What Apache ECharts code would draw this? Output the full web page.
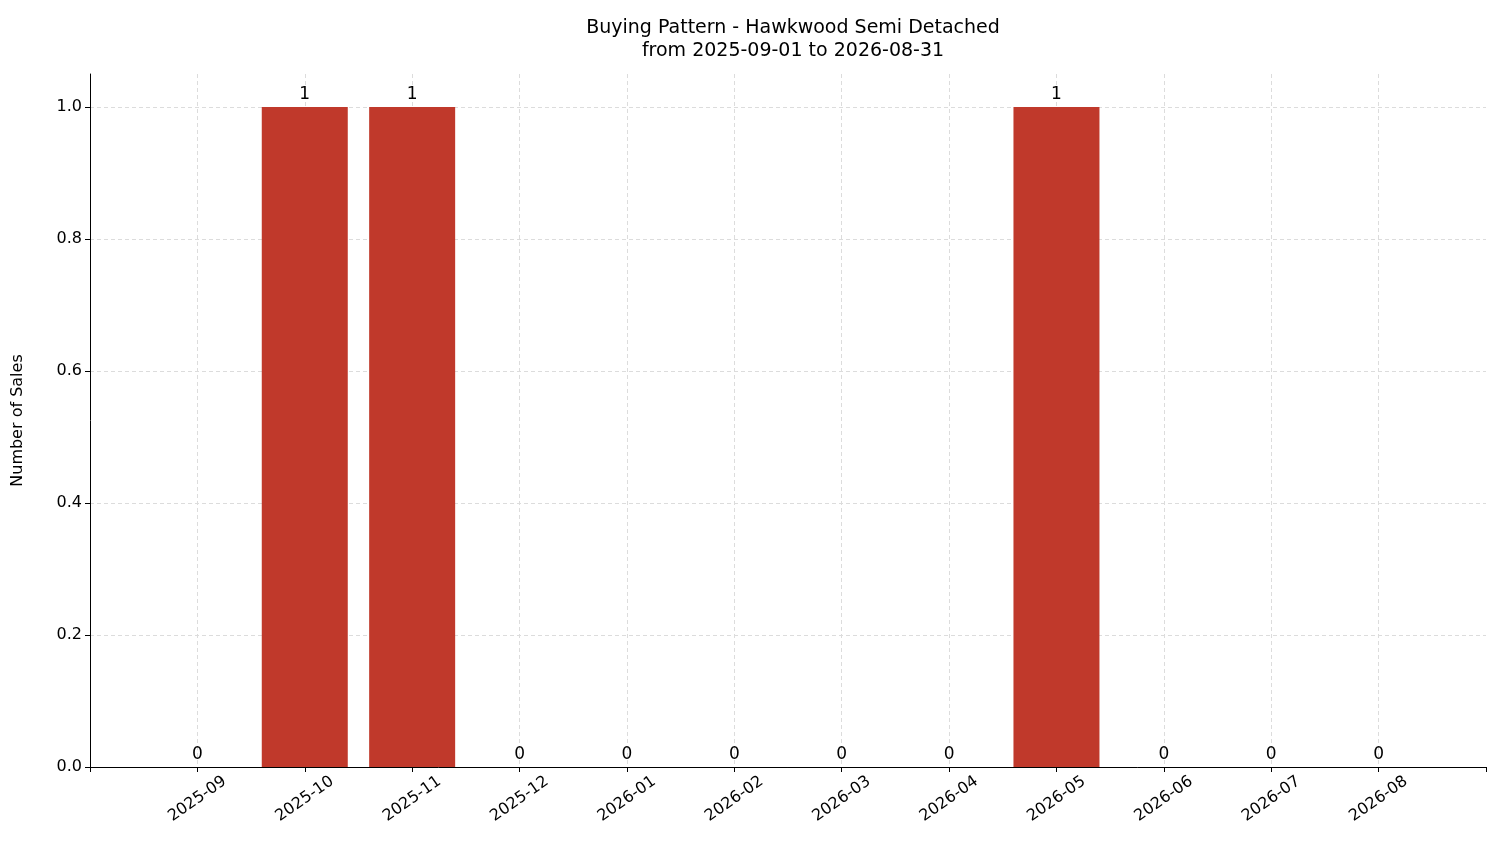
<!DOCTYPE html>
<html><head><meta charset="utf-8">
<script src="https://cdn.jsdelivr.net/npm/echarts@6/dist/echarts.min.js"></script>
<style>html,body{margin:0;padding:0;background:#fff}#c{width:1501px;height:863px}</style>
</head><body><div id="c"></div>
<script>
const categories = ['2025-09','2025-10','2025-11','2025-12','2026-01','2026-02','2026-03','2026-04','2026-05','2026-06','2026-07','2026-08'];
const sales = [0,1,1,0,0,0,0,0,1,0,0,0];
const chart = echarts.init(document.getElementById('c'));
const font = 'DejaVu Sans';
chart.setOption({
  animation:false,
  textStyle:{fontFamily:font},
  title:{text:'Buying Pattern - Hawkwood Semi Detached\nfrom 2025-09-01 to 2026-08-31',left:788,textAlign:'center',top:12,
    textStyle:{fontFamily:font,fontSize:19,fontWeight:'normal',color:'#000',lineHeight:23}},
  grid:{left:90,right:15,top:74,bottom:96},
  xAxis:{type:'value',min:-1,max:12,interval:1,
    axisLine:{show:true,onZero:false,lineStyle:{color:'#000'}},
    axisTick:{show:true,length:5,lineStyle:{color:'#000'}},
    axisLabel:{rotate:35,fontSize:16,color:'#000',margin:32,align:'center',verticalAlign:'middle',
      formatter:v=>(v>=0&&v<categories.length)?categories[v]:''},
    splitLine:{show:true,showMinLine:false,showMaxLine:false,lineStyle:{type:[4,3],color:'#dcdcdc'}}},
  yAxis:{type:'value',min:0,max:1.05,interval:0.2,name:'Number of Sales',nameLocation:'middle',nameGap:64,
    nameTextStyle:{fontSize:16,color:'#000'},
    axisLine:{show:true,onZero:false,lineStyle:{color:'#000'}},
    axisTick:{show:true,length:5,lineStyle:{color:'#000'}},
    axisLabel:{fontSize:16,color:'#000',showMaxLabel:false,formatter:v=>v.toFixed(1)},
    splitLine:{show:true,showMaxLine:false,lineStyle:{type:[4,3],color:'#dcdcdc'}}},
  series:[{type:'bar',barWidth:86,data:sales.map((v,i)=>[i,v]),
    itemStyle:{color:'#c0392b'},
    label:{show:true,position:'top',fontSize:17,color:'#000',distance:4,formatter:p=>String(p.value[1])}}]
});
</script></body></html>
